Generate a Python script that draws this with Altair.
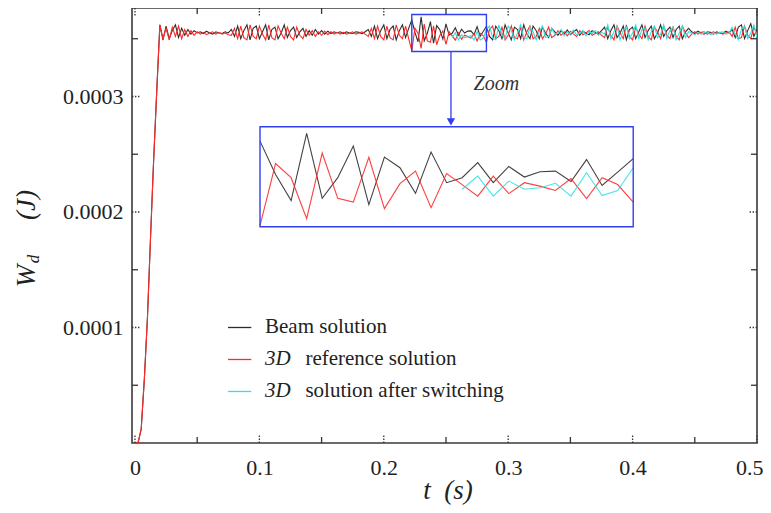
import altair as alt
import pandas as pd

# ---------------- data (energy in micro-joules) ----------------
T_STEP = 0.0025        # sampling interval of the curves (s)
SWITCH_INDEX = 102     # sample where the "3D solution after switching" begins

beam_uJ = [
    0, 0.5, 12, 55, 108, 178, 245, 305, 362,
    349, 361, 350, 357, 362, 351, 359, 353, 358, 354, 357, 355,
    356, 354.5, 356.5, 355, 354, 356, 355, 354.5, 356, 355,
    358, 352, 361, 350, 357, 362, 349, 359, 361, 350, 356, 362, 349, 358, 360, 350, 355, 362, 351, 357, 360, 351, 356, 359, 352,
    357, 353, 358, 354, 357, 354, 356.5, 354.5, 356,
    355, 356, 354.5, 356, 355, 354.5, 356, 355.5, 354.5, 356,
    358, 352, 361, 350, 357, 362, 350, 358, 361, 349, 357, 362, 351, 359,
    366.4, 355.7, 347.4, 368.9, 348.1, 354.7, 364.8, 346.1, 361.3, 357.9, 349.7, 362.9, 353.1,
    354.7, 359.5, 353.1, 358.3, 354.9, 356.6, 356.8, 353.5, 360.5, 352.2, 356.5, 360.8,
    352, 349, 361, 357, 350, 362, 355, 349, 360, 358, 350, 362, 354, 350, 361, 357, 350, 360, 355, 351, 359, 356,
    353, 357, 354, 357.5, 353.5, 356, 358, 353, 356.5, 355, 353.5, 357, 355.5, 354, 357,
    360, 350, 357, 362, 351, 355, 361, 349, 358, 360, 350, 356, 362, 351, 357, 361, 350, 355, 362, 352, 357, 360, 351, 358, 361, 350, 356, 359,
    356, 354.5, 356.5, 355, 354, 356, 355.5, 354, 356, 355, 354.5, 356.5, 355,
    358, 351, 360, 362, 350, 357, 363, 352, 358,
]

ref3d_uJ = [
    0, 0.5, 12, 55, 108, 178, 245, 305, 362,
    350, 359, 349, 360, 352, 361, 350, 358, 352, 357, 353, 356,
    354, 355.5, 353.5, 355, 356, 354, 355.5, 354, 355, 353.5,
    353, 359, 350, 361, 351, 349, 362, 352, 350, 361, 354, 349, 362, 351, 349, 361, 355, 350, 360, 352, 349, 360, 353, 350, 358,
    353, 357, 352, 356, 353, 356.5, 353.5, 356, 354,
    355.5, 354, 355.5, 354, 355, 356, 354, 355, 356, 354,
    352, 359, 350, 361, 352, 349, 361, 351, 349, 362, 353, 350, 361, 350,
    339.4, 359.2, 354.7, 341.6, 362.6, 348.1, 346.9, 361.2, 344.8, 352.8, 356.8, 345.1, 356.0,
    352.5, 348.8, 355.2, 349.6, 353.1, 352.0, 350.6, 354.4, 348.0, 354.7, 352.5, 346.9,
    358, 361, 350, 352, 360, 349, 353, 361, 351, 350, 360, 349, 356, 361, 350, 352, 359, 350, 354, 360, 351, 353,
    357, 353, 356, 352.5, 356.5, 354, 352, 357, 353.5, 355, 357, 353, 354.5, 356, 353,
    351, 360, 353, 349, 361, 355, 350, 362, 352, 349, 360, 354, 350, 361, 352, 349, 360, 356, 350, 361, 353, 350, 360, 352, 349, 361, 355, 351,
    354, 356, 354, 355.5, 356, 354, 355, 356, 354.5, 355.5, 354, 355, 356,
    352, 360, 350, 351, 361, 353, 350, 360, 354,
]

switch3d_uJ = [
    351.0, 355.2, 348.8, 353.6, 351.0, 351.5, 352.9, 348.8, 356.3, 349.0, 350.6, 357.9,
    361, 351, 349, 362, 353, 350, 361, 357, 349, 355, 362, 351, 350, 360, 356, 349, 356, 361, 351, 352, 359, 354,
    355, 358, 352.5, 356, 354, 357.5, 353, 355, 357, 352.5, 356, 354.5, 357, 353, 355.5,
    354, 362, 350, 356, 361, 349, 357, 360, 350, 355, 362, 350, 358, 359, 349, 356, 361, 351, 354, 362, 350, 357, 360, 349, 355, 361, 351, 356,
    355, 353.5, 355.5, 354, 355, 356, 353.5, 355, 354, 355.5, 356, 354, 355,
    360, 354, 349, 358, 361, 350, 355, 362, 351,
]

legend_texts = ["Beam solution", "reference solution", "solution after switching"]
legend_prefix = ["", "3D", "3D"]

x_major = [0, 0.1, 0.2, 0.3, 0.4, 0.5]
x_minor = [0.05, 0.15, 0.25, 0.35, 0.45]
y_major = [0.0001, 0.0002, 0.0003]
y_minor = [0.00005, 0.00015, 0.00025, 0.00035]

# ---------------- tables ----------------
assert len(beam_uJ) == len(ref3d_uJ)
t_vals = [round(k * T_STEP, 5) for k in range(len(beam_uJ))]
assert len(switch3d_uJ) == len(t_vals) - SWITCH_INDEX
df_beam = pd.DataFrame({"t": t_vals, "w": [v * 1e-6 for v in beam_uJ]})
df_ref = pd.DataFrame({"t": t_vals, "w": [v * 1e-6 for v in ref3d_uJ]})
df_sw = pd.DataFrame({"t": t_vals[SWITCH_INDEX:], "w": [v * 1e-6 for v in switch3d_uJ]})

# ---------------- layout / style ----------------
W, H = 625, 435
FONT = "Liberation Serif"
BLACK, RED, CYAN, BLUE = "#2e2e2e", "#ff2a2a", "#30e3e3", "#3040f0"
TXT = "#222222"

ZT0, ZT1 = 0.2225, 0.2825          # zoom window (time)
ZW0, ZW1 = 339e-6, 371e-6          # zoom window (energy)
IT0, IT1 = 0.1005, 0.4005          # inset box (time coords)
IW0, IW1 = 0.0001872, 0.0002738    # inset box (energy coords)
ARROW_T = 0.254

XS = alt.Scale(domain=[-0.0024, 0.5], nice=False, zero=False)
YS = alt.Scale(domain=[0, 0.0003766], nice=False, zero=False)

LAST = "datum.value >= 0.49"
XAXIS = alt.Axis(values=x_major, format="~g", ticks=False, domain=False, grid=False,
                 labelFont=FONT, labelFontSize=22, labelColor=TXT, labelPadding=14,
                 labelFlush=False,
                 labelAlign={"condition": {"test": LAST, "value": "right"}, "value": "center"},
                 labelOffset={"condition": {"test": LAST, "value": 6}, "value": 0},
                 title=None)
YAXIS = alt.Axis(values=y_major, format=".4f", ticks=False, domain=False, grid=False,
                 labelFont=FONT, labelFontSize=22, labelColor=TXT, labelPadding=9,
                 title=None)


def xenc(field):
    return alt.X(field, type="quantitative", scale=XS, axis=XAXIS)


def yenc(field):
    return alt.Y(field, type="quantitative", scale=YS, axis=YAXIS)


layers = []

# main curves
for df, col in [(df_beam, BLACK), (df_ref, RED), (df_sw, CYAN)]:
    layers.append(alt.Chart(df).mark_line(color=col, strokeWidth=1.1, clip=True)
                  .encode(x=xenc("t"), y=yenc("w"), order="t:Q"))

# inset curves: same data, zoom window mapped into inset box
for df, col in [(df_beam, BLACK), (df_ref, RED), (df_sw, CYAN)]:
    layers.append(
        alt.Chart(df)
        .transform_filter(f"datum.t >= {ZT0 - 1e-6} && datum.t <= {ZT1 + 1e-6}")
        .transform_calculate(
            xi=f"{IT0} + (datum.t - {ZT0}) / {ZT1 - ZT0} * {IT1 - IT0}",
            yi=f"{IW0} + (datum.w - {ZW0}) / {ZW1 - ZW0} * {IW1 - IW0}",
        )
        .mark_line(color=col, strokeWidth=1.1, opacity=0.9)
        .encode(x=xenc("xi"), y=yenc("yi"), order="t:Q")
    )

# zoom boxes
df_boxes = pd.DataFrame({"x0": [ZT0, IT0], "x1": [ZT1, IT1], "y0": [ZW0, IW0], "y1": [ZW1, IW1]})
layers.append(alt.Chart(df_boxes).mark_rect(fill="transparent", stroke=BLUE, strokeWidth=1.4)
              .encode(x=xenc("x0"), x2="x1", y=yenc("y0"), y2="y1"))

# arrow
df_arrow = pd.DataFrame({"t": [ARROW_T], "a": [ZW0], "b": [IW1 + 4.3e-6]})
layers.append(alt.Chart(df_arrow).mark_rule(color=BLUE, strokeWidth=1.3)
              .encode(x=xenc("t"), y=yenc("a"), y2="b"))
layers.append(alt.Chart(df_arrow).mark_point(shape="triangle-down", filled=True, size=70,
                                             color=BLUE, opacity=1)
              .encode(x=xenc("t"), y=yenc("b")))

# "Zoom" label
df_zoomlbl = pd.DataFrame({"t": [0.2905], "w": [0.0003104], "s": ["Zoom"]})
layers.append(alt.Chart(df_zoomlbl).mark_text(font=FONT, fontSize=20, fontStyle="italic",
                                              color="#333", align="center", baseline="middle")
              .encode(x=xenc("t"), y=yenc("w"), text="s:N"))

# legend
LEG_Y = [0.0001, 0.0000723, 0.0000446]
for i, col in enumerate([BLACK, RED, CYAN]):
    d = pd.DataFrame({"a": [0.0748], "b": [0.0935], "w": [LEG_Y[i]],
                      "tp": [0.1045], "tt": [0.1045 if not legend_prefix[i] else 0.1370],
                      "p": [legend_prefix[i]], "s": [legend_texts[i]]})
    layers.append(alt.Chart(d).mark_rule(color=col, strokeWidth=1.3)
                  .encode(x=xenc("a"), x2="b", y=yenc("w")))
    layers.append(alt.Chart(d).mark_text(font=FONT, fontSize=21, color=TXT, align="left",
                                         baseline="middle")
                  .encode(x=xenc("tt"), y=yenc("w"), text="s:N"))
    if legend_prefix[i]:
        layers.append(alt.Chart(d).mark_text(font=FONT, fontSize=21, fontStyle="italic",
                                             color=TXT, align="left", baseline="middle")
                      .encode(x=xenc("tp"), y=yenc("w"), text="p:N"))

# inward ticks on all four sides
TICK = "#333333"
dxM = pd.DataFrame({"v": x_major})
dxm = pd.DataFrame({"v": x_minor})
dyM = pd.DataFrame({"v": y_major})
dym = pd.DataFrame({"v": y_minor})
for dfv, dash, ln in [(dxM, [1.4, 1.6], 8), (dxm, [], 6)]:
    mk = dict(color=TICK, strokeWidth=1.3)
    if dash:
        mk["strokeDash"] = dash
    layers.append(alt.Chart(dfv).mark_rule(**mk).encode(x=xenc("v"), y=alt.value(H), y2=alt.value(H - ln)))
    layers.append(alt.Chart(dfv).mark_rule(**mk).encode(x=xenc("v"), y=alt.value(0), y2=alt.value(ln)))
for dfv, dash, ln in [(dyM, [1.4, 1.6], 8), (dym, [], 6)]:
    mk = dict(color=TICK, strokeWidth=1.3)
    if dash:
        mk["strokeDash"] = dash
    layers.append(alt.Chart(dfv).mark_rule(**mk).encode(y=yenc("v"), x=alt.value(0), x2=alt.value(ln)))
    layers.append(alt.Chart(dfv).mark_rule(**mk).encode(y=yenc("v"), x=alt.value(W), x2=alt.value(W - ln)))

# axis titles:  t (s)   and   W_d (J)
layers.append(alt.Chart(pd.DataFrame({"s": ["t\u00a0\u00a0(s)"]}))
              .mark_text(font=FONT, fontSize=27, fontStyle="italic", color=TXT,
                         align="center", baseline="alphabetic")
              .encode(x=alt.value(316), y=alt.value(491), text="s:N"))
for s, px, py, fs in [("W", -105, 268, 27), ("d", -98, 251, 17), ("(J)", -105, 197, 27)]:
    layers.append(alt.Chart(pd.DataFrame({"s": [s]}))
                  .mark_text(font=FONT, fontSize=fs, fontStyle="italic", color=TXT, angle=270,
                             align="center", baseline="middle")
                  .encode(x=alt.value(px), y=alt.value(py), text="s:N"))

chart = (
    alt.layer(*layers)
    .properties(width=W, height=H,
                autosize=alt.AutoSizeParams(type="none"),
                padding={"left": 124, "top": 0, "right": 6, "bottom": 62},
                background="white")
    .configure_view(stroke="#3a3a3a", strokeWidth=1.6)
)

chart.save("out.html", embed_options={"renderer": "svg", "actions": False})
